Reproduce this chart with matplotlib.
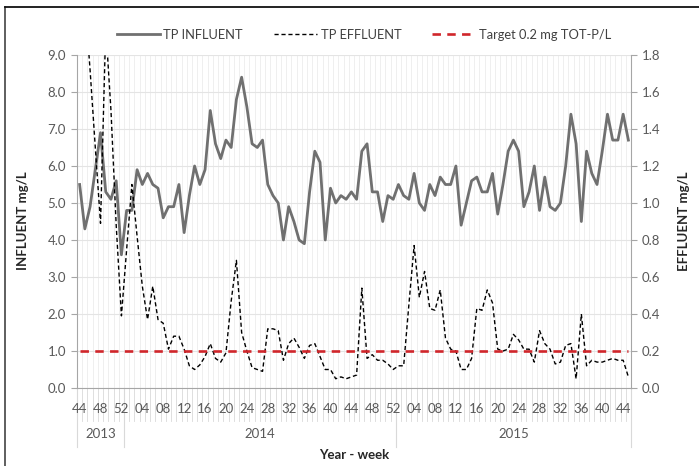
import numpy as np
import matplotlib
matplotlib.use('Agg')
import matplotlib.pyplot as plt
from matplotlib import transforms
from matplotlib.lines import Line2D

plt.rcParams['font.family'] = ['Lato', 'DejaVu Sans']

# categories: year / week
years = ['2013', '2014', '2015']
weeks_2013 = list(range(44, 53))
weeks_2014 = list(range(1, 53))
weeks_2015 = list(range(1, 46))

# TP influent, mg/L (left axis)
influent = [
    5.5, 4.3, 4.9, 5.9, 6.9, 5.3, 5.1, 5.6, 3.6,
    4.8, 4.8, 5.9, 5.5, 5.8, 5.5, 5.4, 4.6, 4.9, 4.9, 5.5, 4.2, 5.2,
    6.0, 5.5, 5.9, 7.5, 6.6, 6.2, 6.7, 6.5, 7.8, 8.4, 7.6, 6.6, 6.5,
    6.7, 5.5, 5.2, 5.0, 4.0, 4.9, 4.5, 4.0, 3.9, 5.3, 6.4, 6.1, 4.0,
    5.4, 5.0, 5.2, 5.1, 5.3, 5.1, 6.4, 6.6, 5.3, 5.3, 4.5, 5.2, 5.1,
    5.5, 5.2, 5.1, 5.8, 5.0, 4.8, 5.5, 5.2, 5.7, 5.5, 5.5, 6.0, 4.4,
    5.0, 5.6, 5.7, 5.3, 5.3, 5.8, 4.7, 5.5, 6.4, 6.7, 6.4, 4.9, 5.3,
    6.0, 4.8, 5.7, 4.9, 4.8, 5.0, 6.0, 7.4, 6.6, 4.5, 6.4, 5.8, 5.5,
    6.4, 7.4, 6.7, 6.7, 7.4, 6.7,
]

# TP effluent, mg/L (right axis)
effluent = [
    2.40, 2.10, 1.72, 1.30, 0.89, 1.95, 1.50, 0.88, 0.39,
    0.75, 1.10, 0.82, 0.55, 0.37, 0.55, 0.37, 0.35, 0.21, 0.28, 0.28,
    0.21, 0.12, 0.10, 0.125, 0.17, 0.24, 0.16, 0.14, 0.19, 0.47, 0.69,
    0.30, 0.20, 0.11, 0.10, 0.09, 0.32, 0.32, 0.31, 0.15, 0.24, 0.27,
    0.22, 0.16, 0.23, 0.24, 0.17, 0.10, 0.10, 0.05, 0.06, 0.05, 0.06,
    0.07, 0.54, 0.16, 0.18, 0.15, 0.15, 0.13, 0.10, 0.12, 0.12, 0.45,
    0.77, 0.49, 0.63, 0.43, 0.42, 0.53, 0.27, 0.21, 0.20, 0.10, 0.10,
    0.16, 0.43, 0.42, 0.53, 0.46, 0.21, 0.20, 0.21, 0.29, 0.26, 0.21,
    0.21, 0.14, 0.31, 0.24, 0.21, 0.13, 0.14, 0.23, 0.24, 0.05, 0.40,
    0.12, 0.15, 0.14, 0.14, 0.15, 0.16, 0.15, 0.15, 0.06,
]

target = 0.2

weeks = weeks_2013 + weeks_2014 + weeks_2015
year_sizes = [len(weeks_2013), len(weeks_2014), len(weeks_2015)]
n = len(weeks)
x = np.arange(n)

W, H = 699, 466
fig = plt.figure(figsize=(W / 100, H / 100), dpi=100)
ax = fig.add_axes([77 / W, (H - 388) / H, 554 / W, 333 / H])
ax2 = ax.twinx()

tick_col = '#595959'
axis_col = '#a6a6a6'

l1, = ax.plot(x, influent, color='#707070', lw=2.0, label='TP INFLUENT')
l2, = ax2.plot(x, effluent, color='black', lw=1.0, dashes=(3, 2), label='TP EFFLUENT')
l3, = ax2.plot(x, [target] * n, color='#d0262b', lw=1.9, dashes=(3.2, 2.4),
               label='Target 0.2 mg TOT-P/L')

ax.set_xlim(-0.5, n - 0.5)
ax.set_ylim(0, 9)
ax2.set_ylim(0, 1.8)

ax.set_yticks(np.arange(0, 9.01, 1.0))
ax.set_yticklabels([f'{v:.1f}' for v in np.arange(0, 9.01, 1.0)])
ax2.set_yticks(np.arange(0, 1.801, 0.2))
ax2.set_yticklabels([f'{v:.1f}' for v in np.arange(0, 1.801, 0.2)])

# grid
ax.grid(axis='y', color='#e4e4e4', lw=0.8)
ax.set_xticks(np.arange(-0.5, n, 1), minor=True)
ax.grid(axis='x', which='minor', color='#efefef', lw=0.7)
ax.set_axisbelow(True)
ax.tick_params(axis='x', which='both', length=0, labelbottom=False)

for a in (ax, ax2):
    for s in a.spines.values():
        s.set_visible(False)
ax.spines['left'].set_visible(True)
ax.spines['left'].set_color(axis_col)
ax.spines['bottom'].set_visible(True)
ax.spines['bottom'].set_color(axis_col)
ax2.spines['right'].set_visible(True)
ax2.spines['right'].set_color(axis_col)

ax.tick_params(axis='y', direction='out', length=4, color=axis_col,
               labelcolor=tick_col, labelsize=9.5, pad=4)
ax2.tick_params(axis='y', direction='out', length=4, color=axis_col,
                labelcolor=tick_col, labelsize=9.5, pad=4)

# multi-level category axis
trans = transforms.blended_transform_factory(ax.transData, ax.transAxes)
for b in np.arange(-0.5, n, 1):
    ax.plot([b, b], [0, -0.1], transform=trans, color='#d9d9d9', lw=0.6, clip_on=False)
for i in range(0, n, 4):
    ax.text(i, -0.063, f'{weeks[i]:02d}', transform=trans, ha='center', va='center',
            fontsize=9.5, color=tick_col)

start = 0
bounds = [-0.5]
for yr, size in zip(years, year_sizes):
    end = start + size
    ax.text((start + end - 1) / 2, -0.138, yr, transform=trans, ha='center', va='center',
            fontsize=9.5, color=tick_col)
    bounds.append(end - 0.5)
    start = end
for b in bounds:
    ax.plot([b, b], [0, -0.178], transform=trans, color='#d9d9d9', lw=0.8, clip_on=False)

fig.text((77 + 631) / 2 / W, (H - 455) / H, 'Year - week', ha='center', va='center',
         fontsize=9.5, fontweight='bold', color='#262626')
fig.text(23 / W, (H - 221) / H, 'INFLUENT mg/L', rotation=90, ha='center', va='center',
         fontsize=9.5, fontweight='bold', color='#262626')
fig.text(684 / W, (H - 221) / H, 'EFFLUENT mg/L', rotation=90, ha='center', va='center',
         fontsize=9.5, fontweight='bold', color='#262626')

fig.legend(handles=[l1, l2, l3], loc='center', bbox_to_anchor=(364 / W, (H - 35) / H),
           ncol=3, frameon=False, fontsize=9.3, handlelength=3.3, handletextpad=0.3,
           columnspacing=2.4, labelcolor='#404040')

# outer chart frame (cropped at right/bottom)
fig.add_artist(Line2D([5 / W, 5 / W], [0, (H - 7) / H], transform=fig.transFigure,
                      color='#333333', lw=1.1))
fig.add_artist(Line2D([5 / W, 1], [(H - 7) / H, (H - 7) / H], transform=fig.transFigure,
                      color='#111111', lw=1.3))

fig.savefig('out.png', dpi=100)
